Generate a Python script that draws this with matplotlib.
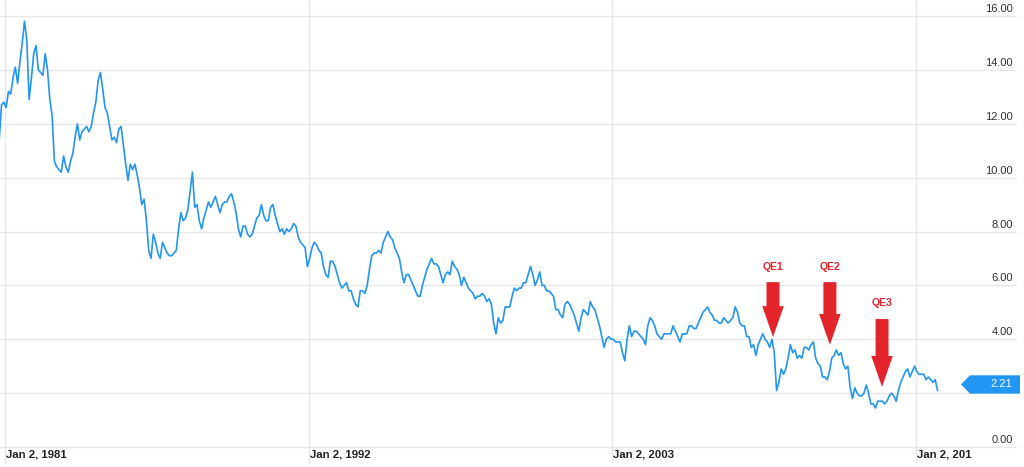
import numpy as np
import matplotlib.pyplot as plt
from matplotlib.patches import FancyArrow, Polygon
from matplotlib.transforms import offset_copy

# 10-year treasury yield, monthly, starting Oct 1980
start_year, start_month = 1980, 10
yields = [
    11.4, 12.7, 12.8,                                                   # 1980
    12.6, 13.2, 13.1, 13.7, 14.1, 13.5, 14.3, 15.0, 15.8, 15.1, 12.9, 13.7,  # 1981
    14.6, 14.9, 14.0, 13.9, 13.8, 14.6, 14.0, 12.9, 12.3, 10.6, 10.4, 10.3,  # 1982
    10.2, 10.8, 10.4, 10.2, 10.6, 10.9, 11.5, 12.0, 11.4, 11.7, 11.8, 11.9,  # 1983
    11.7, 11.9, 12.4, 12.8, 13.6, 13.9, 13.3, 12.6, 12.4, 11.9, 11.4, 11.5,  # 1984
    11.3, 11.8, 11.9, 11.2, 10.5, 9.9, 10.5, 10.3, 10.5, 10.1, 9.6, 9.0,     # 1985
    9.2, 8.4, 7.3, 7.0, 7.9, 7.6, 7.2, 7.0, 7.6, 7.4, 7.2, 7.1,              # 1986
    7.1, 7.2, 7.3, 8.1, 8.7, 8.4, 8.5, 8.8, 9.5, 10.2, 8.9, 9.0,             # 1987
    8.4, 8.1, 8.5, 8.8, 9.1, 8.9, 9.1, 9.3, 9.0, 8.7, 9.0, 9.1,              # 1988
    9.1, 9.3, 9.4, 9.1, 8.7, 8.1, 7.8, 8.2, 8.2, 7.9, 7.8, 7.9,              # 1989
    8.2, 8.5, 8.6, 9.0, 8.6, 8.4, 8.4, 8.9, 9.0, 8.6, 8.3, 8.0,              # 1990
    8.1, 7.9, 8.1, 8.0, 8.1, 8.3, 8.2, 7.8, 7.6, 7.5, 7.4, 6.7,              # 1991
    7.0, 7.4, 7.6, 7.5, 7.3, 7.2, 6.7, 6.4, 6.3, 6.9, 6.9, 6.7,              # 1992
    6.4, 6.1, 5.9, 6.0, 6.1, 5.8, 5.8, 5.5, 5.3, 5.2, 5.8, 5.8,              # 1993
    5.7, 6.0, 6.6, 7.1, 7.2, 7.2, 7.3, 7.2, 7.6, 7.8, 8.0, 7.8,              # 1994
    7.7, 7.4, 7.2, 7.0, 6.5, 6.1, 6.4, 6.4, 6.2, 6.0, 5.8, 5.6,              # 1995
    5.6, 6.0, 6.3, 6.6, 6.8, 7.0, 6.8, 6.8, 6.7, 6.4, 6.1, 6.4,              # 1996
    6.5, 6.4, 6.9, 6.7, 6.6, 6.4, 6.0, 6.3, 6.1, 5.9, 5.8, 5.7,              # 1997
    5.5, 5.6, 5.6, 5.7, 5.6, 5.4, 5.5, 5.3, 4.6, 4.2, 4.8, 4.6,              # 1998
    4.7, 5.2, 5.2, 5.2, 5.6, 5.9, 5.8, 5.9, 5.9, 6.1, 6.1, 6.4,              # 1999
    6.7, 6.4, 6.0, 6.2, 6.5, 6.0, 6.0, 5.8, 5.8, 5.7, 5.6, 5.1,              # 2000
    5.1, 4.9, 4.8, 5.3, 5.4, 5.3, 5.1, 4.9, 4.6, 4.3, 4.8, 5.1,              # 2001
    5.0, 4.9, 5.4, 5.2, 5.1, 4.8, 4.5, 4.1, 3.7, 4.0, 4.1, 4.0,              # 2002
    4.0, 3.9, 3.9, 3.9, 3.5, 3.2, 4.0, 4.5, 4.1, 4.3, 4.3, 4.2,              # 2003
    4.1, 4.0, 3.8, 4.5, 4.8, 4.7, 4.5, 4.2, 4.1, 4.0, 4.2, 4.2,              # 2004
    4.2, 4.2, 4.5, 4.3, 4.1, 3.9, 4.2, 4.2, 4.2, 4.5, 4.5, 4.4,              # 2005
    4.4, 4.6, 4.8, 5.0, 5.1, 5.2, 5.0, 4.9, 4.7, 4.7, 4.6, 4.6,              # 2006
    4.8, 4.7, 4.6, 4.7, 4.8, 5.2, 5.0, 4.6, 4.5, 4.5, 4.1, 4.1,              # 2007
    3.7, 3.8, 3.4, 3.8, 4.0, 4.2, 4.0, 3.9, 3.7, 4.0, 3.5, 2.1,              # 2008
    2.4, 2.9, 2.7, 2.9, 3.3, 3.8, 3.5, 3.6, 3.3, 3.4, 3.3, 3.7,              # 2009
    3.7, 3.6, 3.8, 3.9, 3.3, 3.1, 3.0, 2.6, 2.6, 2.5, 2.8, 3.3,              # 2010
    3.4, 3.6, 3.4, 3.5, 3.1, 2.9, 3.0, 2.2, 1.8, 2.2, 2.0, 1.9,              # 2011
    1.9, 2.0, 2.3, 2.0, 1.6, 1.6, 1.45, 1.7, 1.7, 1.7, 1.6, 1.7,             # 2012
    1.9, 2.0, 1.9, 1.7, 2.1, 2.4, 2.6, 2.8, 2.9, 2.6, 2.8, 3.0,              # 2013
    2.8, 2.7, 2.7, 2.7, 2.5, 2.6, 2.5, 2.4, 2.5, 2.1,                        # 2014
]
last_value = 2.21

tick_years = [1981, 1992, 2003, 2014]
tick_labels = ['Jan 2, 1981', 'Jan 2, 1992', 'Jan 2, 2003', 'Jan 2, 201']
y_ticks = [0, 2, 4, 6, 8, 10, 12, 14, 16]

qe_labels = ['QE1', 'QE2', 'QE3']
qe_x = [2008.83, 2010.89, 2012.78]
qe_top = [6.12, 6.12, 4.75]
qe_tip = [4.08, 3.79, 2.23]

line_col = '#2196F3'
red = '#E3242B'
grid_col = '#E6E6EC'

plt.rcParams['font.family'] = ['Liberation Sans', 'DejaVu Sans']

t = start_year + (start_month - 1 + np.arange(len(yields)) + 0.5) / 12.0

fig = plt.figure(figsize=(10.24, 4.67), dpi=100)
ax = fig.add_axes([0, 0, 1017 / 1024, 1])
ax.set_xlim(1980.82, 2017.67)
ax.set_ylim(-0.742, 16.594)
for s in ax.spines.values():
    s.set_visible(False)
ax.set_xticks([])
ax.set_yticks([])

# grid
for v in y_ticks:
    ax.axhline(v, color=grid_col, lw=1, zorder=0)
for yr in tick_years:
    ax.axvline(yr, ymin=0.011, color=grid_col, lw=1, zorder=0)

ax.plot(t, yields, color=line_col, lw=1.2, zorder=2)

# y labels on the right, above the grid lines
ytr = offset_copy(ax.get_yaxis_transform(), fig=fig, y=2, units='dots')
for v in y_ticks:
    ax.text(1013 / 1017, v, f'{v:.2f}', transform=ytr, ha='right', va='bottom',
            fontsize=8, color='#333333')

# x labels
xtr = ax.get_xaxis_transform()
for yr, lab in zip(tick_years, tick_labels):
    ax.text(yr + 0.04, 0.027, lab, transform=xtr, ha='left', va='center',
            fontsize=8.2, fontweight='bold', color='#222222')

# last value tag
h = 0.34
tag_tr = offset_copy(ax.get_yaxis_transform(), fig=fig, y=3, units='dots')
tag = Polygon([[961 / 1017, last_value], [970 / 1017, last_value + h],
               [1020 / 1017, last_value + h], [1020 / 1017, last_value - h],
               [970 / 1017, last_value - h]],
              closed=True, transform=tag_tr,
              facecolor=line_col, edgecolor='none', clip_on=False, zorder=3)
ax.add_patch(tag)
ax.text(1012 / 1017, last_value, f'{last_value:.2f}', transform=tag_tr,
        ha='right', va='center', fontsize=8, color='white', zorder=4)

# QE arrows
for lab, x, top, tip in zip(qe_labels, qe_x, qe_top, qe_tip):
    ax.add_patch(FancyArrow(x, top, 0, tip - top, width=0.47, head_width=0.78,
                            head_length=1.15, length_includes_head=True,
                            color=red, lw=0, zorder=5))
    ax.text(x, top + 0.58, lab, ha='center', va='center', fontsize=7.5,
            fontweight='bold', color=red)

fig.savefig('out.png', dpi=100)
